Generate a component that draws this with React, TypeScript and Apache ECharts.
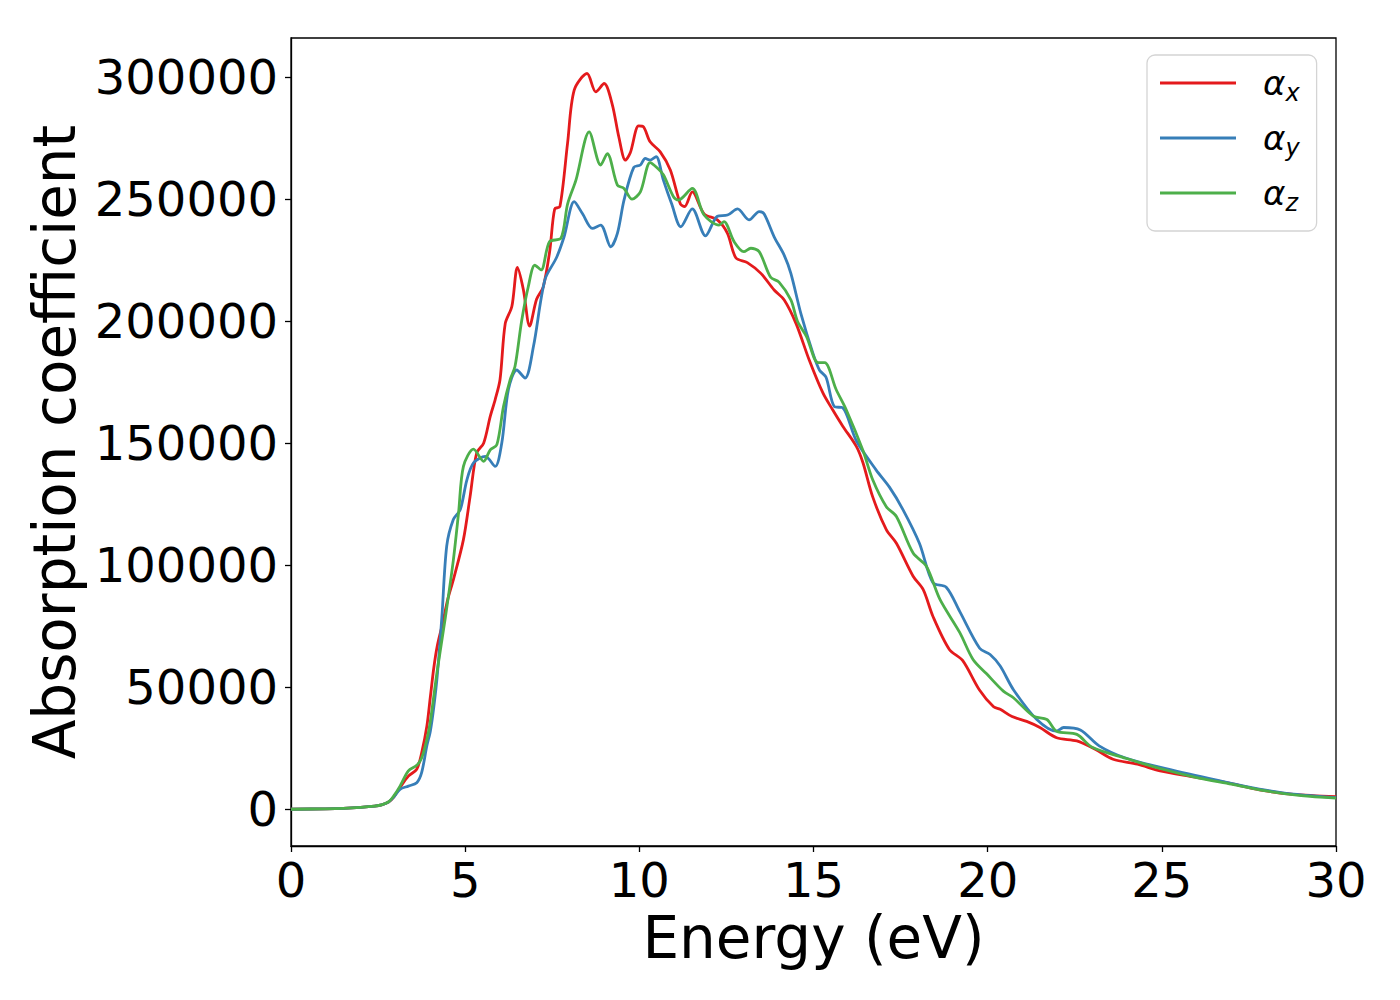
import React, { useEffect, useRef } from "react";
import * as echarts from "echarts";

const energyX = [0,1,1.5,2,2.4,2.6,2.8,2.95,3.13,3.37,3.61,3.75,3.9,4.0,4.1,4.2,4.35,4.5,4.66,4.95,5.14,5.33,5.53,5.72,5.86,6.0,6.15,6.34,6.5,6.67,6.85,7.05,7.24,7.43,7.57,7.72,7.94,8.13,8.5,8.75,8.99,9.22,9.41,9.6,9.74,9.98,10.12,10.31,10.6,10.89,11.18,11.3,11.52,11.86,12.24,12.53,12.77,13.1,13.49,13.87,14.16,14.5,14.88,15.27,15.55,15.84,16.23,16.42,16.7,17.09,17.38,17.86,18.15,18.43,18.9,19.28,19.76,20.17,20.36,20.7,21.12,21.5,21.98,22.56,23.1,23.6,24.3,24.95,25.9,26.86,27.8,28.78,30];
const alphaX = [0,200,400,800,1300,1800,3000,5000,8900,13600,16400,23000,34000,46000,58000,67000,76000,86000,94000,110500,128000,146000,150000,161000,167800,176000,199000,206000,222000,213000,198000,209000,214000,229000,246000,247000,273000,294700,301500,294000,297400,289000,275600,266000,269000,280000,279600,273500,269400,262000,248000,247000,253000,244000,241500,236000,226000,224000,219600,212800,208700,199000,184000,170600,163700,157000,148700,142000,128000,114600,109000,95500,90000,79000,65500,61000,49000,42000,41000,38000,36000,33500,29300,28000,24500,20500,18500,15700,13300,10900,8000,6100,5200];

const energyY = [0,1,1.5,2,2.4,2.6,2.8,2.95,3.13,3.37,3.61,3.75,3.9,4.0,4.1,4.2,4.33,4.47,4.66,4.86,5.05,5.24,5.58,5.86,6.05,6.24,6.48,6.72,6.96,7.29,7.62,7.84,8.13,8.37,8.65,8.89,9.18,9.37,9.56,9.84,10.03,10.17,10.31,10.48,10.69,10.93,11.19,11.52,11.9,12.24,12.53,12.82,13.15,13.44,13.58,13.87,14.16,14.35,14.64,14.98,15.17,15.36,15.6,15.84,16.23,16.8,17.18,17.56,18.04,18.43,18.81,19.2,19.77,20.07,20.36,20.74,21.41,21.98,22.18,22.66,23.2,23.96,25.3,26.86,27.8,28.78,30];
const alphaY = [0,200,400,800,1300,1800,3000,5000,8200,9500,10900,15000,26000,32000,42000,55000,78500,107800,118700,122800,135000,141900,144600,140500,150000,171900,180000,176700,189600,217000,226000,234600,249000,244000,238000,239400,230500,236000,249600,263000,264000,266700,266000,267400,257800,248000,238700,246000,235000,243000,243500,246000,241500,244900,244000,234600,227000,219600,203000,187000,180000,177000,165000,164500,151000,139000,132000,123000,109000,92800,91000,81000,66000,63400,58700,49000,36800,32000,33500,32500,26000,21000,16000,11000,8300,6200,4800];

const energyZ = [0,1,1.5,2,2.4,2.6,2.8,2.95,3.13,3.37,3.61,3.75,3.9,4.0,4.2,4.43,4.66,4.81,4.95,5.24,5.53,5.72,5.91,6.1,6.29,6.43,6.62,6.81,7.0,7.18,7.42,7.75,7.94,8.18,8.56,8.89,9.08,9.37,9.56,9.79,10.03,10.31,10.5,10.69,10.98,11.12,11.52,11.86,12.29,12.43,12.72,13.0,13.2,13.44,13.77,14.01,14.35,14.54,14.8,15.13,15.32,15.65,15.94,16.42,16.7,17.09,17.38,17.86,18.24,18.63,19.2,19.58,19.97,20.45,20.74,21.31,21.7,21.98,22.56,23.0,23.96,25.0,26.0,27.0,28.0,29.0,30];
const alphaZ = [0,200,400,800,1300,1800,3000,5500,9500,15700,18000,21000,28600,36000,57000,78500,102000,121400,140500,147600,142600,147300,149400,165000,176000,181400,200000,214000,223000,221000,232600,234000,248000,257800,277600,264000,268700,255800,254400,250000,253000,265000,263000,260000,251000,249600,254400,243500,239400,240800,232600,228500,229900,228500,218000,216000,208700,200000,193700,183000,183000,172000,163700,147000,135000,124000,120000,105000,99600,86000,72400,61400,55500,48400,45700,38200,36800,32000,30700,25400,20900,16500,13000,10300,7500,5600,4600];

const seriesNames = ["αx", "αy", "αz"];
const subscripts = ["x", "y", "z"];
const seriesColors = ["#e41a1c", "#377eb8", "#4daf4a"];
const xTicks = [0, 5, 10, 15, 20, 25, 30];
const yTicks = [0, 50000, 100000, 150000, 200000, 250000, 300000];

const zip = (xs: number[], ys: number[]) =>
  xs.slice(0, Math.min(xs.length, ys.length)).map((x, i) => [x, ys[i]]);

export default function App() {
  const ref = useRef<HTMLDivElement>(null);
  useEffect(() => {
    if (!ref.current) return;
    const chart = echarts.init(ref.current, null, { renderer: "svg" });
    const font = "DejaVu Sans";
    const datasets = [zip(energyX, alphaX), zip(energyY, alphaY), zip(energyZ, alphaZ)];
    chart.setOption({
      animation: false,
      backgroundColor: "#ffffff",
      grid: {
        left: 291,
        right: 64,
        top: 38,
        bottom: 154,
        show: true,
        borderColor: "#000",
        borderWidth: 1.3,
        backgroundColor: "transparent",
      },
      xAxis: {
        type: "value",
        min: 0,
        max: 30,
        interval: 5,
        name: "Energy (eV)",
        nameLocation: "middle",
        nameGap: 55,
        nameTextStyle: { fontFamily: font, fontSize: 58, color: "#000" },
        axisLine: { show: true, onZero: false, lineStyle: { color: "#000", width: 1.3 } },
        axisTick: { show: true, inside: false, length: 6, customValues: xTicks, lineStyle: { color: "#000", width: 1.3 } },
        axisLabel: { fontFamily: font, fontSize: 48, color: "#000", margin: 10, customValues: xTicks, formatter: (v: number) => String(v) },
        splitLine: { show: false },
      },
      yAxis: {
        type: "value",
        min: -15050,
        max: 316050,
        name: "Absorption coefficient",
        nameLocation: "middle",
        nameRotate: 90,
        nameGap: 190,
        nameTextStyle: { fontFamily: font, fontSize: 58, color: "#000" },
        axisLine: { show: true, onZero: false, lineStyle: { color: "#000", width: 1.3 } },
        axisTick: { show: true, inside: false, length: 6, customValues: yTicks, lineStyle: { color: "#000", width: 1.3 } },
        axisLabel: { fontFamily: font, fontSize: 48, color: "#000", margin: 13, customValues: yTicks, formatter: (v: number) => String(Math.round(v)) },
        splitLine: { show: false },
      },
      legend: {
        orient: "vertical",
        left: 1147,
        top: 55,
        padding: [6, 17, 16, 13],
        itemWidth: 76,
        itemHeight: 3,
        itemGap: 11,
        icon: "rect",
        selectedMode: false,
        backgroundColor: "#ffffff",
        borderColor: "#d4d4d4",
        borderWidth: 1.3,
        borderRadius: 8,
        data: seriesNames,
        formatter: (name: string) => {
          const i = seriesNames.indexOf(name);
          return `{a|α}{s|${subscripts[i]}}`;
        },
        textStyle: {
          fontFamily: font,
          color: "#000",
          rich: {
            a: { fontFamily: font, fontSize: 34, fontStyle: "italic", lineHeight: 50, color: "#000", verticalAlign: "middle", padding: [0, 0, 0, 22] },
            s: { fontFamily: font, fontSize: 24, fontStyle: "italic", lineHeight: 24, color: "#000", verticalAlign: "middle", padding: [20, 0, 0, 0] },
          },
        },
      },
      series: seriesNames.map((n, i) => ({
        name: n,
        type: "line",
        data: datasets[i],
        smooth: 0.3,
        showSymbol: false,
        symbol: "none",
        lineStyle: { color: seriesColors[i], width: 2.8 },
        itemStyle: { color: seriesColors[i] },
        z: 2 + i,
      })),
    });
    return () => chart.dispose();
  }, []);
  return (
    <div
      ref={ref}
      style={{ position: "fixed", left: 0, top: 0, width: 1400, height: 1000, background: "#fff" }}
    />
  );
}
